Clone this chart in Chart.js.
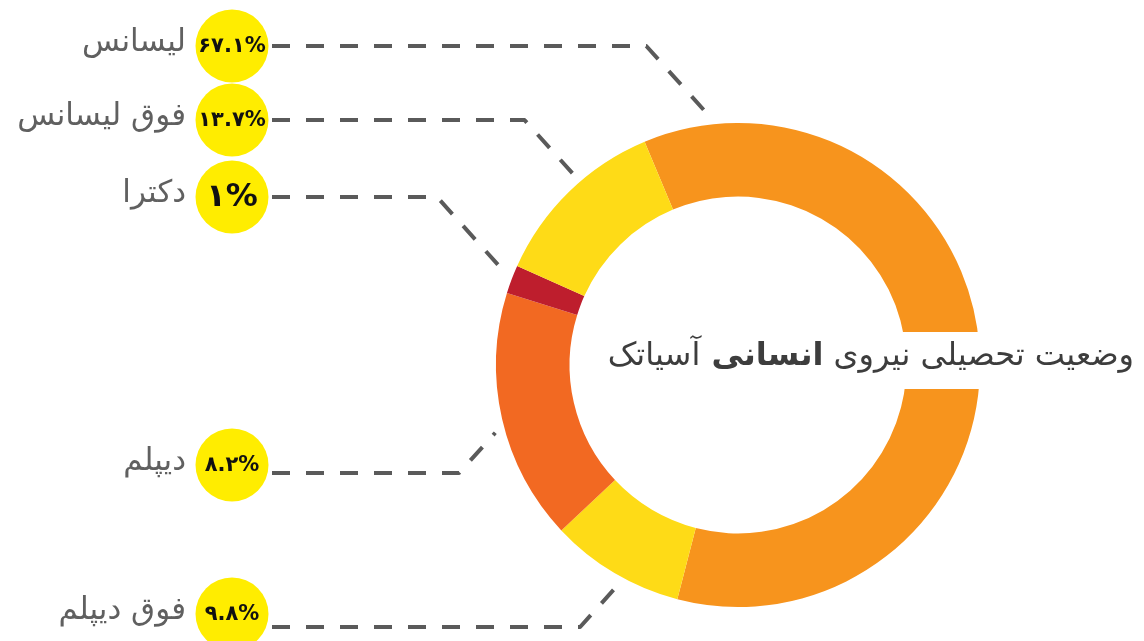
<!DOCTYPE html>
<html lang="fa">
<head>
<meta charset="utf-8">
<title>وضعیت تحصیلی نیروی انسانی آسیاتک</title>
<script src="https://cdn.jsdelivr.net/npm/chart.js@4/dist/chart.umd.min.js"></script>
<style>
  html, body { margin: 0; padding: 0; background: #fff; }
  .chart-container { position: relative; width: 1144px; height: 641px; }
</style>
</head>
<body>
<div class="chart-container">
  <canvas id="eduChart" width="1144" height="641"></canvas>
</div>
<script>
// categories in legend order (top to bottom on the left)
const categories = ['لیسانس', 'فوق لیسانس', 'دکترا', 'دیپلم', 'فوق دیپلم'];
const shareLabels = ['۶۷.۱%', '۱۳.۷%', '۱%', '۸.۲%', '۹.۸%'];

// ring segments, clockwise from the start angle (sizes)
const segmentCategories = ['لیسانس', 'فوق دیپلم', 'دیپلم', 'دکترا', 'فوق لیسانس'];
const segmentValues = [60.4, 9.0, 16.8, 1.9, 12.0];
const segmentColors = ['#F7941D', '#FEDB17', '#F26922', '#BE1E2D', '#FEDB17'];

const chartTitle = ['وضعیت', 'تحصیلی', 'نیروی', 'انسانی', 'آسیاتک'];

// where each leader line touches the ring (degrees clockwise from top)
const leaderAngles = [-6.8, -40.8, -68.2, -105.6, -151.3];
const rowY = [46, 120, 197, 465, 614];
const lineY = [46, 120, 197, 473, 627];

const FONT = '"DejaVu Sans", "Noto Sans", sans-serif';

const labelPlugin = {
    id: 'eduLabels',
    afterDraw(chart) {
        const ctx = chart.ctx;
        const arc = chart.getDatasetMeta(0).data[0];
        const cx = arc.x, cy = arc.y, R = arc.outerRadius;

        // white band behind the title
        ctx.save();
        ctx.fillStyle = '#fff';
        ctx.fillRect(598, 332, 546, 57);

        // title, drawn word by word right to left
        let x = 1134;
        ctx.textBaseline = 'alphabetic';
        ctx.textAlign = 'right';
        ctx.direction = 'rtl';
        ctx.fillStyle = '#3d3d3d';
        chartTitle.forEach((w, i) => {
            ctx.font = (i === 3 ? 'bold ' : '') + '32px ' + FONT;
            ctx.fillText(w, x, 365);
            x -= ctx.measureText(w).width + ctx.measureText(' ').width;
        });

        // leader lines
        ctx.strokeStyle = '#5a5a5a';
        ctx.lineWidth = 4;
        ctx.setLineDash([18, 16]);
        ctx.lineJoin = 'round';
        categories.forEach((c, i) => {
            const a = leaderAngles[i] * Math.PI / 180;
            const r = R + 10;
            const ex = cx + r * Math.sin(a);
            const ey = cy - r * Math.cos(a);
            const y = lineY[i];
            const kx = ex - Math.abs(ey - y) * 0.9;
            ctx.beginPath();
            ctx.moveTo(272, y);
            ctx.lineTo(kx, y);
            ctx.lineTo(ex, ey);
            ctx.stroke();
        });
        ctx.setLineDash([]);

        // yellow badges and names
        categories.forEach((c, i) => {
            const y = rowY[i];
            ctx.beginPath();
            ctx.arc(232, y, 36.5, 0, Math.PI * 2);
            ctx.fillStyle = '#FFED00';
            ctx.fill();

            ctx.direction = 'ltr';
            ctx.textAlign = 'center';
            ctx.textBaseline = 'middle';
            ctx.fillStyle = '#111';
            ctx.font = (shareLabels[i].length < 3 ? 'bold 32px ' : 'bold 21px ') + FONT;
            ctx.fillText(shareLabels[i], 232, y + 1);

            ctx.direction = 'rtl';
            ctx.textAlign = 'right';
            ctx.fillStyle = '#606060';
            ctx.font = '31px ' + FONT;
            ctx.fillText(c, 186, y - 3);
        });
        ctx.restore();
    }
};

const chart = new Chart(document.getElementById('eduChart'), {
    type: 'doughnut',
    data: {
        labels: segmentCategories,
        datasets: [{
            data: segmentValues,
            backgroundColor: segmentColors,
            borderWidth: 0,
            hoverOffset: 0
        }]
    },
    options: {
        responsive: false,
        animation: false,
        rotation: -22.7,
        cutout: '69.6%',
        layout: {
            padding: { left: 496, right: 164, top: 123, bottom: 34 }
        },
        plugins: {
            legend: { display: false },
            tooltip: { enabled: false }
        }
    },
    plugins: [labelPlugin]
});
</script>
</body>
</html>
